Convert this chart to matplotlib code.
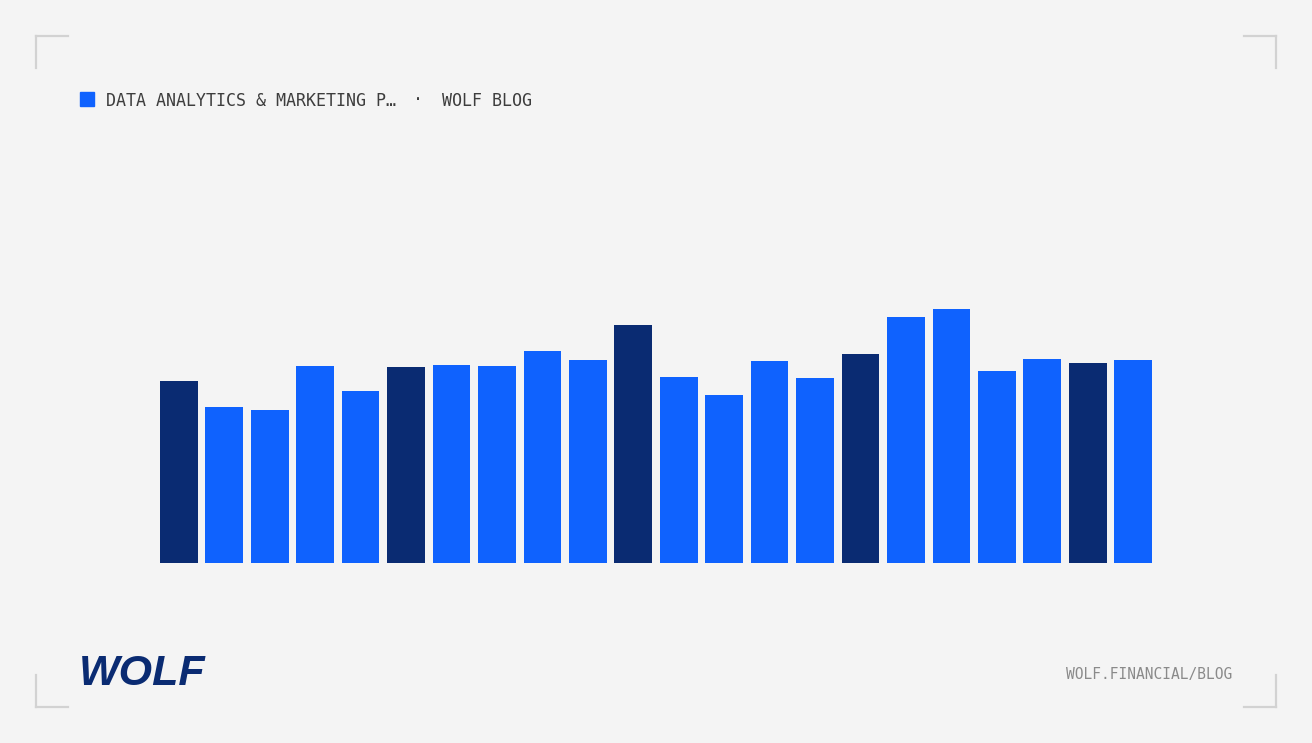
import numpy as np
import matplotlib.pyplot as plt
from matplotlib.lines import Line2D
from matplotlib.patches import Rectangle

# bar values (no axis shown, read off as relative heights)
values = [181.7, 156.3, 153.0, 197.0, 172.0, 196.0, 198.3, 197.0, 212.0, 203.0, 238.0,
          186.0, 167.7, 202.0, 185.0, 209.0, 246.0, 254.0, 191.7, 203.7, 200.0, 203.3]
highlight = [0, 5, 10, 15, 20]

title_text = "DATA ANALYTICS & MARKETING P\u2026"
source_text = "WOLF BLOG"
footer_text = "WOLF.FINANCIAL/BLOG"
logo_text = "WOLF"

BG = "#f4f4f4"
BLUE = "#0f62fe"
DARK = "#0a2b72"

W, H = 1312, 743
fig = plt.figure(figsize=(W / 100, H / 100), dpi=100, facecolor=BG)

# plot area in pixel terms
left, right, base, top = 160, 1152, 563, 143
ax = fig.add_axes([left / W, (H - base) / H, (right - left) / W, (base - top) / H])
ax.set_facecolor("none")

x = np.arange(len(values))
bw = 0.83
colors = [DARK if i in highlight else BLUE for i in x]
ax.bar(x, values, width=bw, color=colors, linewidth=0)
ax.set_xlim(-bw / 2, len(values) - 1 + bw / 2)
ax.set_ylim(0, base - top)
ax.axis("off")

# corner brackets
def px(xp, yp):
    return xp / W, 1 - yp / H

corner = "#d2d2d2"
for (cx, cy, dx, dy) in [(36, 36, 1, 1), (1276, 36, -1, 1), (36, 707, 1, -1), (1276, 707, -1, -1)]:
    x0, y0 = px(cx, cy)
    x1, _ = px(cx + 32 * dx, cy)
    _, y1 = px(cx, cy + 32 * dy)
    fig.add_artist(Line2D([x0, x1], [y0, y0], color=corner, lw=1.6, transform=fig.transFigure))
    fig.add_artist(Line2D([x0, x0], [y0, y1], color=corner, lw=1.6, transform=fig.transFigure))

# header
sx, sy = px(80, 106)
fig.add_artist(Rectangle((sx, sy), 14 / W, 14 / H, color=BLUE, transform=fig.transFigure))
mono = "DejaVu Sans Mono"
fig.text(*px(106, 100.5), title_text, family=mono, fontsize=12, color="#3d3d3d", va="center", ha="left")
fig.text(*px(418, 100.5), "\u00b7", family=mono, fontsize=12, color="#3d3d3d", va="center", ha="center")
fig.text(*px(442, 100.5), source_text, family=mono, fontsize=12, color="#3d3d3d", va="center", ha="left")

# footer
fig.text(*px(1232, 674.5), footer_text, family=mono, fontsize=10.5, color="#8a8a8a", va="center", ha="right")
fig.text(*px(79, 674), logo_text, family="Liberation Sans", fontsize=31, fontweight="bold",
         fontstyle="italic", color=DARK, va="center", ha="left")

fig.savefig("out.png", dpi=100, facecolor=BG)
